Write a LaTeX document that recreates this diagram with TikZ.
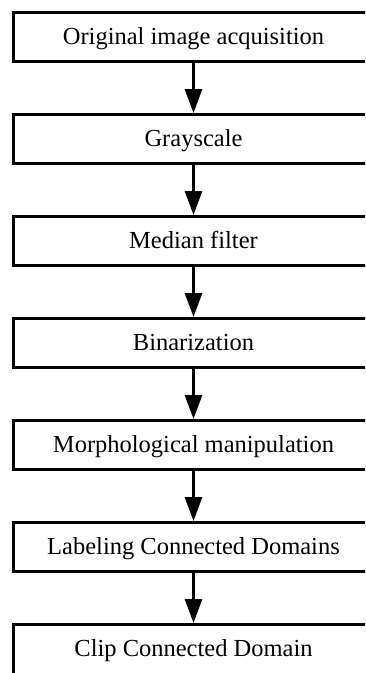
\documentclass[tikz,border=0pt]{standalone}
\usepackage{fontspec}
\setmainfont{Liberation Serif}
\usetikzlibrary{arrows.meta}
\tikzset{
  stepbox/.style={draw=black, line width=3pt, rectangle, minimum width=360pt,
    inner xsep=0pt, inner ysep=13pt, text height=19pt, text depth=4pt,
    anchor=north, font=\fontsize{24.5pt}{28pt}\selectfont},
  flow/.style={line width=3pt, -{Triangle[width=17pt,length=24pt]}}
}
\begin{document}
\begin{tikzpicture}[x=1pt,y=1pt]
\useasboundingbox (0,0) rectangle (365,-673);
\clip (0,0) rectangle (365,-673);
\node[stepbox] (n1) at (193.5,-11) {Original image acquisition};
\node[stepbox] (n2) at (193.5,-113) {Grayscale};
\node[stepbox] (n3) at (193.5,-215) {Median filter};
\node[stepbox] (n4) at (193.5,-317) {Binarization};
\node[stepbox] (n5) at (193.5,-419) {Morphological manipulation};
\node[stepbox] (n6) at (193.5,-521) {Labeling Connected Domains};
\node[stepbox, text depth=20pt] (n7) at (193.5,-623) {Clip Connected Domain};
\draw[flow] (n1.south) -- (n2.north);
\draw[flow] (n2.south) -- (n3.north);
\draw[flow] (n3.south) -- (n4.north);
\draw[flow] (n4.south) -- (n5.north);
\draw[flow] (n5.south) -- (n6.north);
\draw[flow] (n6.south) -- (n7.north);
\end{tikzpicture}
\end{document}
